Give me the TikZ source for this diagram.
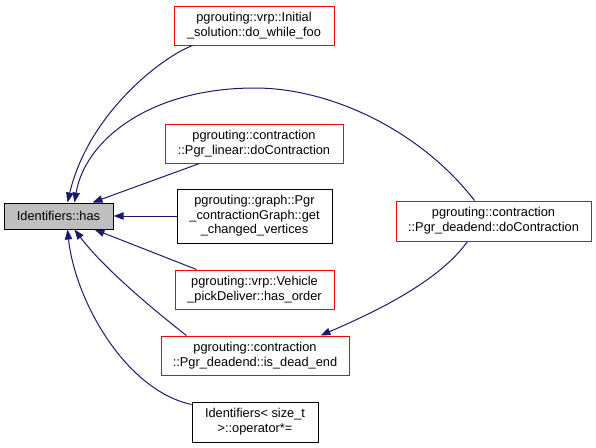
\documentclass[tikz,border=0pt]{standalone}
\usepackage{fontspec}
\setmainfont{Liberation Sans}
\usepackage{xcolor}
\usepackage{tikz}
\usetikzlibrary{arrows.meta,calc}
\definecolor{edgeblue}{RGB}{25,25,112}
\definecolor{hasgray}{RGB}{191,191,191}
\definecolor{boxred}{RGB}{255,0,0}

\begin{document}
\begin{tikzpicture}[x=0.75pt,y=-0.75pt,
  fn/.style={draw=boxred, line width=0.75pt, inner sep=0pt, align=center,
    font=\fontsize{9.6}{11}\selectfont},
  fnblack/.style={fn, draw=black},
  call/.style={draw=edgeblue, line width=0.75pt,
    -{Triangle[length=7.5pt,width=5.5pt,fill=edgeblue]}}]
  \useasboundingbox (0,0) rectangle (596,447);
  % called function
  \node[fnblack, fill=hasgray, minimum width=81.75pt, minimum height=19.5pt] (has) at (58.5,216) {Identifiers::has};
  % callers
  \node[fn, minimum width=120pt, minimum height=29.25pt] (initSol) at (254,25.5) {pgrouting::vrp::Initial\\\_solution::do\_while\_foo};
  \node[fn, minimum width=133.5pt, minimum height=29.25pt] (linearContr) at (254,143.5) {pgrouting::contraction\\::Pgr\_linear::doContraction};
  \node[fnblack, minimum width=116.25pt, minimum height=40.5pt] (changedVert) at (254.5,216) {pgrouting::graph::Pgr\\\_contractionGraph::get\\\_changed\_vertices};
  \node[fn, minimum width=119.25pt, minimum height=29.25pt] (hasOrder) at (254.5,289.5) {pgrouting::vrp::Vehicle\\\_pickDeliver::has\_order};
  \node[fn, minimum width=141pt, minimum height=29.25pt] (isDeadEnd) at (255,355.5) {pgrouting::contraction\\::Pgr\_deadend::is\_dead\_end};
  \node[fnblack, minimum width=94.5pt, minimum height=30pt] (operatorMul) at (255,422) {Identifiers< size\_t\\>::operator*=};
  \node[fn, minimum width=146.25pt, minimum height=30pt] (deadendContr) at (493.5,221) {pgrouting::contraction\\::Pgr\_deadend::doContraction};
  % call edges
  \draw[call] ($(initSol.south west)+(19,0)$) .. controls (160,58) and (88,115) .. ($(has.north west)+(64,0)$);
  \draw[call] ($(deadendContr.north west)+(79,0)$) .. controls (420,130) and (330,88) .. (255,88)
    .. controls (150,88) and (85,140) .. ($(has.north west)+(71,0)$);
  \draw[call] ($(linearContr.south west)+(35,0)$) -- ($(has.north west)+(89,0)$);
  \draw[call] (changedVert.west) -- (has.east);
  \draw[call] ($(hasOrder.north west)+(22,0)$) -- ($(has.south west)+(91,0)$);
  \draw[call] ($(isDeadEnd.north west)+(26,0)$) .. controls (160,315) and (105,270) .. ($(has.south west)+(71,0)$);
  \draw[call] ($(operatorMul.north west)+(0,3)$) .. controls (125,390) and (75,300) .. ($(has.south west)+(64,0)$);
  \draw[call] ($(deadendContr.south west)+(72,0)$) .. controls (440,280) and (380,310) .. ($(isDeadEnd.north east)+(-29,0)$);
\end{tikzpicture}
\end{document}
